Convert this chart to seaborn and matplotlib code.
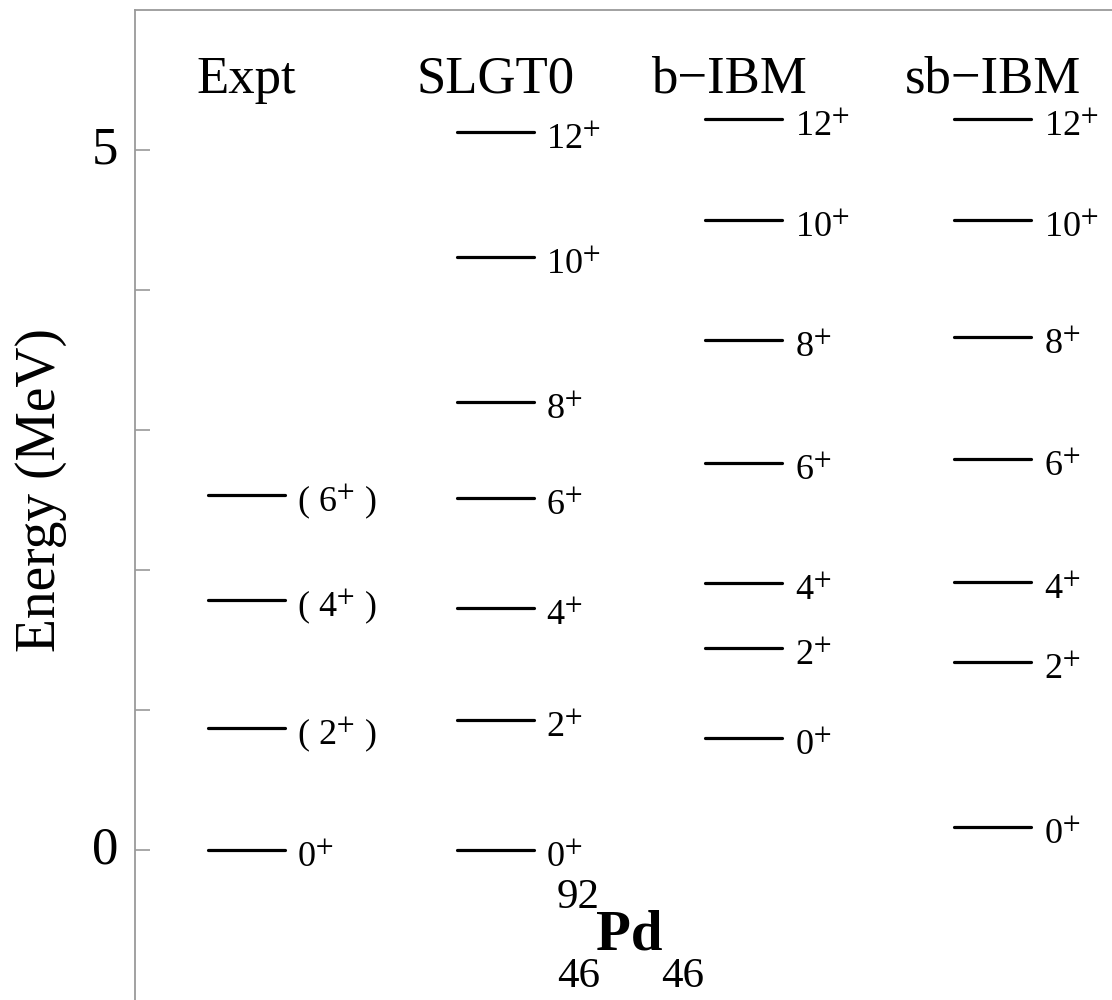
import matplotlib
matplotlib.use("Agg")
import matplotlib.pyplot as plt
import numpy as np
import pandas as pd
import seaborn as sns
from matplotlib.ticker import FixedLocator

# Level energies (MeV) for 92Pd: experiment and three model calculations
schemes = ["Expt", "SLGT0", "b\u2212IBM", "sb\u2212IBM"]
expt_E = [0.0, 0.874, 1.786, 2.535]
expt_J = ["0$^{+}$", "( 2$^{+}$ )", "( 4$^{+}$ )", "( 6$^{+}$ )"]
slgt0_E = [0.0, 0.929, 1.729, 2.514, 3.200, 4.236, 5.129]
bibm_E = [0.800, 1.443, 1.907, 2.764, 3.643, 4.500, 5.221]
sbibm_E = [0.164, 1.343, 1.914, 2.793, 3.664, 4.500, 5.221]
theory_J = ["0$^{+}$", "2$^{+}$", "4$^{+}$", "6$^{+}$", "8$^{+}$", "10$^{+}$", "12$^{+}$"]

energies = [expt_E, slgt0_E, bibm_E, sbibm_E]
spins = [expt_J, theory_J, theory_J, theory_J]

sns.set_theme(style="white")
plt.rcParams["font.family"] = ["Liberation Serif", "DejaVu Serif"]
plt.rcParams["mathtext.fontset"] = "stix"
plt.rcParams["text.color"] = "black"
plt.rcParams["axes.labelcolor"] = "black"
plt.rcParams["ytick.labelcolor"] = "black"

fig = plt.figure(figsize=(11.12, 10), dpi=100)
ax = fig.add_axes([135 / 1112, 0.0, 1 - 135 / 1112, 0.99])

half_w = 0.155   # half length of a level line (column units)
gap = 0.05       # space between line end and its spin label

rows = []
for ci, (E_list, J_list) in enumerate(zip(energies, spins)):
    for li, (E, J) in enumerate(zip(E_list, J_list)):
        uid = f"{ci}-{li}"
        rows.append({"x": ci - half_w, "E": E, "level": uid})
        rows.append({"x": ci + half_w, "E": E, "level": uid})
df = pd.DataFrame(rows)

sns.lineplot(data=df, x="x", y="E", units="level", estimator=None,
             color="black", linewidth=2.3, legend=False, sort=False, ax=ax)

# spin-parity labels to the right of each level
for ci, (E_list, J_list) in enumerate(zip(energies, spins)):
    for E, J in zip(E_list, J_list):
        ax.text(ci + half_w + gap, E - 0.12, J, ha="left", va="baseline",
                fontsize=26, color="black")

# column headings
header_x = [0.0, 1.0, 1.94, 3.0]
for hx, name in zip(header_x, schemes):
    ax.text(hx, 5.41, name, ha="center", va="baseline", fontsize=38, color="black")

# nucleus symbol
ax.text(1.248, -0.414, "92", ha="left", va="baseline", fontsize=31)
ax.text(1.405, -0.714, "Pd", ha="left", va="baseline", fontsize=41, fontweight="bold")
ax.text(1.248, -0.979, "46", ha="left", va="baseline", fontsize=31)
ax.text(1.668, -0.979, "46", ha="left", va="baseline", fontsize=31)

ax.set_xlim(-0.448, 3.480)
ax.set_ylim(-1.0714, 6.0)
ax.set_xticks([])
ax.yaxis.set_major_locator(FixedLocator([0, 5]))
ax.yaxis.set_minor_locator(FixedLocator([1, 2, 3, 4]))
ax.tick_params(axis="y", which="both", direction="in", length=11, width=1.2,
               color="#9a9a9a", labelsize=38, pad=12, left=True, labelcolor="black")
for lab in ax.get_yticklabels():
    lab.set_verticalalignment("center")
ax.set_xlabel("")
ax.set_ylabel("Energy (MeV)", fontsize=40)
ax.yaxis.set_label_coords(-0.070, 0.515)

for side in ["right", "bottom"]:
    ax.spines[side].set_visible(False)
for side in ["left", "top"]:
    ax.spines[side].set_color("#9a9a9a")
    ax.spines[side].set_linewidth(1.3)

fig.savefig("out.png", dpi=100, facecolor="white")
